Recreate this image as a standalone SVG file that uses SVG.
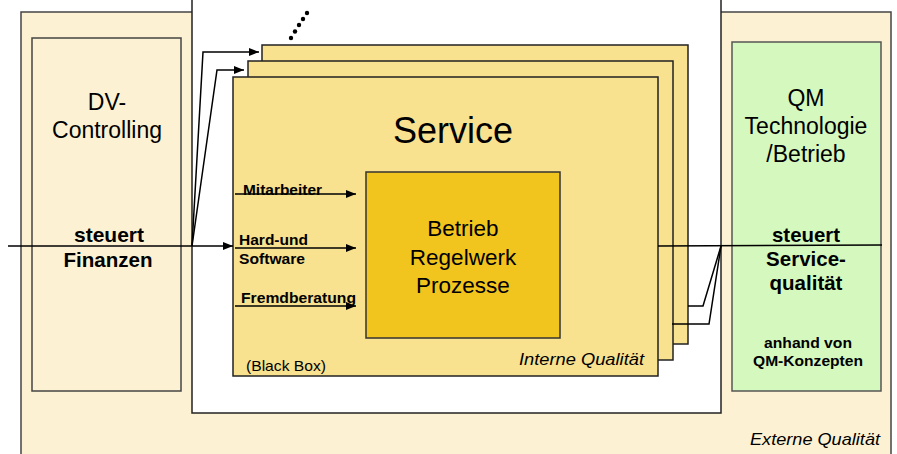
<svg xmlns="http://www.w3.org/2000/svg" width="897" height="454" viewBox="0 0 897 454">
  <defs>
    <marker id="arrow" viewBox="0 0 10 8" refX="10" refY="4" markerWidth="10" markerHeight="8" markerUnits="userSpaceOnUse" orient="auto">
      <path d="M0,0 L10,4 L0,8 Z" fill="#000"/>
    </marker>
  </defs>
  <style>
    .cream { fill: #FCF2D3; stroke: #444; stroke-width: 1.5; }
    .green { fill: #D5F8BE; stroke: #555; stroke-width: 1.5; }
    .svc { fill: #F8E18F; stroke: #222; stroke-width: 1.5; }
    .core { fill: #F2C41E; stroke: #333; stroke-width: 1.5; }
    .hole { fill: #FFFFFF; stroke: #222; stroke-width: 1.5; }
    .t { font-family: "Liberation Sans", Arial, sans-serif; fill: #000; }
    .b { font-weight: bold; }
    .i { font-style: italic; }
    .mid { text-anchor: middle; }
    .end { text-anchor: end; }
    .ln { fill: none; stroke: #000; stroke-width: 1.5; }
  </style>

  <!-- outer frame with the open service area -->
  <g id="frame">
    <rect class="cream" x="21" y="12" width="870" height="460"/>
    <rect class="hole" x="192" y="-5" width="529" height="418"/>
    <text class="t i end" x="880" y="445" font-size="16.5" textLength="130" lengthAdjust="spacingAndGlyphs">Externe Qualität</text>
  </g>

  <!-- left: DV-Controlling -->
  <g id="dv-controlling">
    <rect class="cream" x="32" y="38" width="149" height="353"/>
    <text class="t mid" x="107" y="110" font-size="23">DV-</text>
    <text class="t mid" x="107" y="138" font-size="23">Controlling</text>
    <text class="t b mid" x="109" y="242" font-size="20.5" textLength="70" lengthAdjust="spacingAndGlyphs">steuert</text>
    <text class="t b mid" x="108" y="267" font-size="20.5" textLength="89" lengthAdjust="spacingAndGlyphs">Finanzen</text>
  </g>

  <!-- right: QM -->
  <g id="qm">
    <rect class="green" x="732" y="42" width="149" height="349"/>
    <text class="t mid" x="806" y="106" font-size="23">QM</text>
    <text class="t mid" x="806" y="134" font-size="23">Technologie</text>
    <text class="t mid" x="806" y="162" font-size="23">/Betrieb</text>
    <text class="t b mid" x="806" y="242" font-size="20.5" textLength="68" lengthAdjust="spacingAndGlyphs">steuert</text>
    <text class="t b mid" x="806" y="266" font-size="20.5">Service-</text>
    <text class="t b mid" x="806" y="290" font-size="20.5">qualität</text>
    <text class="t b mid" x="808" y="348" font-size="14.5" textLength="88" lengthAdjust="spacingAndGlyphs">anhand von</text>
    <text class="t b mid" x="808" y="366" font-size="14.5" textLength="110" lengthAdjust="spacingAndGlyphs">QM-Konzepten</text>
  </g>

  <!-- stacked service instances -->
  <g id="service-3">
    <rect class="svc" x="262" y="45" width="426" height="299"/>
  </g>
  <g id="service-2">
    <rect class="svc" x="248" y="61" width="425" height="299"/>
  </g>
  <g id="more-services">
    <circle cx="291" cy="38" r="2.2"/>
    <circle cx="295" cy="31.5" r="2.2"/>
    <circle cx="299" cy="25" r="2.2"/>
    <circle cx="303" cy="19" r="2.2"/>
    <circle cx="307" cy="13" r="2.2"/>
  </g>
  <g id="service">
    <rect class="svc" x="233" y="77" width="425" height="299"/>
    <text class="t mid" x="453" y="143" font-size="36">Service</text>
    <text class="t" x="246" y="371" font-size="14.5" textLength="80" lengthAdjust="spacingAndGlyphs">(Black Box)</text>
    <text class="t i end" x="644" y="365" font-size="16.5" textLength="125" lengthAdjust="spacingAndGlyphs">Interne Qualität</text>
  </g>

  <!-- core processes -->
  <g id="core">
    <rect class="core" x="366" y="172" width="194" height="166"/>
    <text class="t mid" x="463" y="236" font-size="22.5">Betrieb</text>
    <text class="t mid" x="463" y="265" font-size="22.5">Regelwerk</text>
    <text class="t mid" x="463" y="293" font-size="22.5">Prozesse</text>
  </g>

  <!-- connectors -->
  <g id="connectors">
    <line class="ln" x1="8" y1="246" x2="233" y2="246" marker-end="url(#arrow)"/>
    <polyline class="ln" points="192,246 203,52 259,52" marker-end="url(#arrow)"/>
    <polyline class="ln" points="192,246 217,70 244,70" marker-end="url(#arrow)"/>
    <line class="ln" x1="658" y1="246" x2="882" y2="245"/>
    <polyline class="ln" points="721,246 703,306 688,306"/>
    <polyline class="ln" points="721,246 709,324 672,324"/>
    <line class="ln" x1="235" y1="194" x2="356" y2="194" marker-end="url(#arrow)"/>
    <line class="ln" x1="235" y1="248" x2="356" y2="248" marker-end="url(#arrow)"/>
    <line class="ln" x1="235" y1="306" x2="356" y2="306" marker-end="url(#arrow)"/>
  </g>

  <!-- input labels -->
  <g id="inputs">
    <text class="t b" x="243" y="195" font-size="14" textLength="79" lengthAdjust="spacingAndGlyphs">Mitarbeiter</text>
    <text class="t b" x="239" y="245" font-size="14" textLength="69" lengthAdjust="spacingAndGlyphs">Hard-und</text>
    <text class="t b" x="239" y="264" font-size="14" textLength="66" lengthAdjust="spacingAndGlyphs">Software</text>
    <text class="t b" x="241" y="303" font-size="14" textLength="115" lengthAdjust="spacingAndGlyphs">Fremdberatung</text>
  </g>
</svg>
